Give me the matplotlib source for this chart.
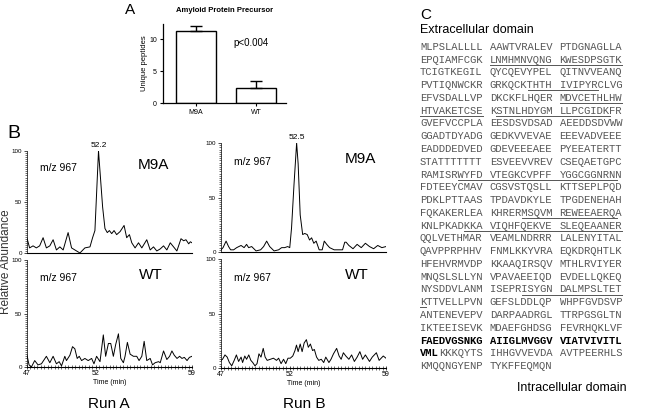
import matplotlib
matplotlib.use("Agg")
import matplotlib.pyplot as plt
from matplotlib.ticker import MultipleLocator

plt.rcParams['font.family'] = ['Liberation Sans', 'DejaVu Sans']

# ---- panel A data ----
groups = ["M9A", "WT"]
peptides = [11.3, 2.3]
peptides_err = [0.75, 1.15]

# ---- panel B data (time in min, relative abundance) ----
runA_m9a_t = [47.0, 47.19, 47.44, 47.68, 47.92, 48.17, 48.41, 48.66, 48.90, 49.14,
              49.39, 49.63, 49.99, 50.24, 50.48, 50.85, 51.21, 51.58, 51.77, 51.94,
              52.2, 52.50, 52.67, 52.84, 52.99, 53.16, 53.33, 53.52, 53.77, 54.06,
              54.25, 54.45, 54.62, 54.86, 55.11, 55.35, 55.71, 55.96, 56.20, 56.44,
              56.69, 56.93, 57.17, 57.42, 57.66, 57.90, 58.20, 58.39, 58.56, 58.76,
              58.88, 59.0]
runA_m9a_y = [14.5, 5, 7, 5, 7, 15, 5, 7, 13, 3,
              6, 3, 20, 5, 3, 0, 5, 6, 15, 22,
              100, 45, 24, 20, 22, 19, 22, 18, 21, 27,
              15, 18, 10, 5, 10, 5, 13, 3, 6, 2,
              4, 7, 3, 10, 6, 2, 14, 12, 13, 9,
              11, 10]

runA_wt_t = [47.00, 47.15, 47.32, 47.56, 47.80, 48.05, 48.41, 48.66, 48.90, 49.14,
             49.34, 49.51, 49.75, 49.87, 50.12, 50.31, 50.48, 50.65, 50.80, 50.97,
             51.21, 51.45, 51.70, 51.87, 52.06, 52.31, 52.55, 52.72, 52.92, 53.09,
             53.28, 53.45, 53.65, 53.82, 54.01, 54.13, 54.30, 54.50, 54.74, 54.98,
             55.15, 55.35, 55.52, 55.71, 55.96, 56.13, 56.32, 56.57, 56.69, 56.93,
             57.17, 57.37, 57.54, 57.71, 57.91, 58.10, 58.27, 58.44, 58.64, 58.81,
             59.00]
runA_wt_y = [11, 2, 0, 6, 2, 3, 10, 4, 10, 3,
             5, 1, 10, 6, 11, 19, 17, 8, 10, 6,
             8, 6, 8, 3, 10, 5, 30, 10, 22, 22,
             10, 21, 31, 8, 4, 10, 23, 12, 10, 10,
             6, 10, 24, 6, 8, 2, 4, 5, 4, 15,
             7, 10, 15, 11, 8, 10, 8, 9, 6, 9,
             10]

runB_m9a_t = [47.00, 47.15, 47.37, 47.55, 47.70, 47.92, 48.14, 48.46, 48.68, 48.86,
              49.01, 49.23, 49.55, 49.88, 50.10, 50.32, 50.54, 50.86, 51.19, 51.41,
              51.63, 51.85, 52.00, 52.13, 52.31, 52.5, 52.61, 52.76, 52.94, 53.09,
              53.27, 53.44, 53.59, 53.75, 53.92, 54.14, 54.36, 54.51, 54.69, 54.90,
              55.23, 55.56, 55.84, 56.00, 56.10, 56.3, 56.6, 56.9, 57.2, 57.5,
              57.8, 58.1, 58.4, 58.7, 59.0]
runB_m9a_y = [2, 4, 10, 5, 2, 2, 4, 6, 4, 7,
              4, 5, 1, 2, 5, 10, 5, 1, 2, 4,
              4, 5, 4, 22, 62, 100, 81, 34, 16, 17,
              16, 11, 13, 8, 10, 2, 2, 10, 7, 4,
              2, 2, 2, 9, 9, 6, 3, 7, 4, 8,
              5, 3, 6, 4, 5]

runB_wt_t = [47.00, 47.11, 47.29, 47.45, 47.61, 47.78, 47.96, 48.12, 48.28, 48.46,
             48.57, 48.73, 48.86, 49.02, 49.17, 49.31, 49.47, 49.62, 49.76, 49.91,
             50.07, 50.21, 50.36, 50.59, 50.81, 51.04, 51.19, 51.37, 51.55, 51.71,
             51.87, 52.04, 52.22, 52.38, 52.49, 52.61, 52.76, 52.90, 53.05, 53.21,
             53.35, 53.50, 53.66, 53.79, 53.95, 54.11, 54.29, 54.47, 54.62, 54.85,
             55.00, 55.18, 55.41, 55.59, 55.74, 55.90, 56.08, 56.30, 56.5, 56.7,
             56.9, 57.1, 57.3, 57.5, 57.8, 58.0, 58.3, 58.5, 58.8, 59.0]
runB_wt_y = [7, 8, 12, 10, 5, 2, 7, 12, 6, 10,
             5, 11, 8, 12, 7, 5, 2, 4, 13, 10,
             18, 10, 7, 8, 9, 7, 9, 4, 8, 4,
             9, 9, 11, 16, 21, 15, 22, 15, 23, 26,
             19, 22, 16, 17, 10, 7, 8, 5, 10, 5,
             8, 13, 18, 11, 8, 14, 11, 8, 12, 6,
             10, 15, 8, 12, 6, 10, 14, 7, 11, 9]

# ---- panel C data ----
sequence = [
    "MLPSLALLLL AAWTVRALEV PTDGNAGLLA",
    "EPQIAMFCGK LNMHMNVQNG KWESDPSGTK",
    "TCIGTKEGIL QYCQEVYPEL QITNVVEANQ",
    "PVTIQNWCKR GRKQCKTHTH IVIPYRCLVG",
    "EFVSDALLVP DKCKFLHQER MDVCETHLHW",
    "HTVAKETCSE KSTNLHDYGM LLPCGIDKFR",
    "GVEFVCCPLA EESDSVDSAD AEEDDSDVWW",
    "GGADTDYADG GEDKVVEVAE EEEVADVEEE",
    "EADDDEDVED GDEVEEEAEE PYEEATERTT",
    "STATTTTTTT ESVEEVVREV CSEQAETGPC",
    "RAMISRWYFD VTEGKCVPFF YGGCGGNRNN",
    "FDTEEYCMAV CGSVSTQSLL KTTSEPLPQD",
    "PDKLPTTAAS TPDAVDKYLE TPGDENEHAH",
    "FQKAKERLEA KHRERMSQVM REWEEAERQA",
    "KNLPKADKKA VIQHFQEKVE SLEQEAANER",
    "QQLVETHMAR VEAMLNDRRR LALENYITAL",
    "QAVPPRPHHV FNMLKKYVRA EQKDRQHTLK",
    "HFEHVRMVDP KKAAQIRSQV MTHLRVIYER",
    "MNQSLSLLYN VPAVAEEIQD EVDELLQKEQ",
    "NYSDDVLANM ISEPRISYGN DALMPSLTET",
    "KTTVELLPVN GEFSLDDLQP WHPFGVDSVP",
    "ANTENEVEPV DARPAADRGL TTRPGSGLTN",
    "IKTEEISEVK MDAEFGHDSG FEVRHQKLVF",
    "FAEDVGSNKG AIIGLMVGGV VIATVIVITL",
    "VMLKKKQYTS IHHGVVEVDA AVTPEERHLS",
    "KMQQNGYENP TYKFFEQMQN",
]
# (row, first column, last column) of underlined stretches
underlines = [(1, 11, 31), (3, 17, 27), (4, 22, 31), (5, 0, 9), (5, 12, 29),
              (10, 6, 30), (13, 16, 30), (14, 7, 31), (19, 16, 31), (20, 0, 0)]
bold_row = 23
bold_prefix = 3   # "VML" on the next row

W, H = 656, 412
fig = plt.figure(figsize=(W / 100, H / 100), dpi=100)
fig.patch.set_facecolor("white")


def box(x0, y0, x1, y1):
    return [x0 / W, 1 - y1 / H, (x1 - x0) / W, (y1 - y0) / H]


def label(x, y, s, **kw):
    fig.text(x / W, 1 - y / H, s, **kw)


# ---------------- A ----------------
axA = fig.add_axes(box(163, 24, 286, 103))
axA.bar(range(len(groups)), peptides, width=0.667, color="white",
        edgecolor="black", linewidth=1.0)
axA.errorbar(range(len(groups)), peptides, yerr=[[0, 0], peptides_err],
             fmt="none", ecolor="black", elinewidth=1.0, capsize=4, capthick=1.0)
axA.set_xlim(-0.55, 1.5)
axA.set_ylim(0, 12.4)
axA.set_yticks([0, 5, 10])
axA.set_xticks(range(len(groups)))
axA.set_xticklabels(groups)
axA.tick_params(labelsize=5, length=2.5, width=0.8, pad=2)
for s in ["top", "right"]:
    axA.spines[s].set_visible(False)
for s in ["left", "bottom"]:
    axA.spines[s].set_linewidth(0.9)
axA.set_ylabel("Unique peptides", fontsize=5.5, labelpad=1)
axA.text(0.57, 0.72, "p<0.004", transform=axA.transAxes, fontsize=7)
label(225, 10, "Amyloid Protein Precursor", fontsize=5.5, weight="bold",
      ha="center", va="center")
label(130, 10, "A", fontsize=11, ha="center", va="center")

# ---------------- B ----------------
panels = [
    (box(27, 151, 192, 253), runA_m9a_t, runA_m9a_y, "M9A", False, 0.67),
    (box(27, 260, 192, 367), runA_wt_t, runA_wt_y, "WT", True, 0.68),
    (box(221, 143, 386, 252), runB_m9a_t, runB_m9a_y, "M9A", False, 0.75),
    (box(221, 259, 386, 368), runB_wt_t, runB_wt_y, "WT", True, 0.75),
]
chrom_axes = []
for rect, t, y, name, bottom, name_x in panels:
    ax = fig.add_axes(rect)
    ax.plot(t, y, color="black", linewidth=0.7)
    ax.set_xlim(47, 59)
    ax.set_ylim(0, 100)
    ax.set_yticks([0, 50, 100])
    ax.yaxis.set_minor_locator(MultipleLocator(2))
    for s in ["top", "right"]:
        ax.spines[s].set_visible(False)
    ax.spines["left"].set_linewidth(0.5)
    ax.spines["bottom"].set_linewidth(0.8)
    ax.tick_params(axis="y", which="major", labelsize=4.5, length=2.5, width=0.5, pad=1)
    ax.tick_params(axis="y", which="minor", length=1.5, width=0.4)
    if bottom:
        ax.set_xticks([47, 52, 59])
        ax.xaxis.set_minor_locator(MultipleLocator(0.25))
        ax.tick_params(axis="x", which="major", labelsize=5, length=3, width=0.5,
                       direction="inout", pad=1)
        ax.tick_params(axis="x", which="minor", length=2.5, width=0.4, direction="inout")
        ax.set_xlabel("Time (min)", fontsize=5, labelpad=1)
    else:
        ax.set_xticks([])
    ax.text(0.08, 0.8, "m/z 967", transform=ax.transAxes, fontsize=7.5)
    ax.text(name_x, 0.82, name, transform=ax.transAxes, fontsize=11)
    chrom_axes.append(ax)

# apex labels
for ax, t, y in [(chrom_axes[0], runA_m9a_t, runA_m9a_y),
                 (chrom_axes[2], runB_m9a_t, runB_m9a_y)]:
    i = y.index(max(y))
    ax.annotate(f"{t[i]:.1f}", (t[i], y[i]), xytext=(0, 1.5),
                textcoords="offset points", ha="center", va="bottom",
                fontsize=6, annotation_clip=False)

label(14, 133, "B", fontsize=14, ha="center", va="center")
label(6, 262, "Relative Abundance", fontsize=8.5, rotation=90, ha="center",
      va="center", color="#333333")
label(109, 404, "Run A", fontsize=11, ha="center", va="center")
label(304, 404, "Run B", fontsize=11, ha="center", va="center")

# ---------------- C ----------------
n_rows = len(sequence)
axC = fig.add_axes(box(420, 40.5, 623, 372.5))
axC.set_xlim(0, 32)
axC.set_ylim(n_rows, 0)
axC.axis("off")
mono = dict(family=["Liberation Mono", "DejaVu Sans Mono"], fontsize=7.6, va="center")
for r, line in enumerate(sequence):
    blocks = line.split(" ")
    for b, chunk in enumerate(blocks):
        col = b * 11
        if r == bold_row:
            axC.text(col, r + 0.5, chunk, color="black", weight="bold", **mono)
        elif r == bold_row + 1 and b == 0:
            axC.text(col, r + 0.5, chunk[:bold_prefix], color="black",
                     weight="bold", **mono)
            axC.text(col + bold_prefix, r + 0.5, chunk[bold_prefix:],
                     color="#555555", **mono)
        else:
            axC.text(col, r + 0.5, chunk, color="#555555", **mono)
for r, c0, c1 in underlines:
    axC.plot([c0, c1 + 1], [r + 0.9, r + 0.9], color="#555555", linewidth=0.7)

label(426, 15, "C", fontsize=11, ha="center", va="center")
label(420, 30, "Extracellular domain", fontsize=9, ha="left", va="center")
label(627, 388, "Intracellular domain", fontsize=9, ha="right", va="center")

fig.savefig("out.png", dpi=100)
